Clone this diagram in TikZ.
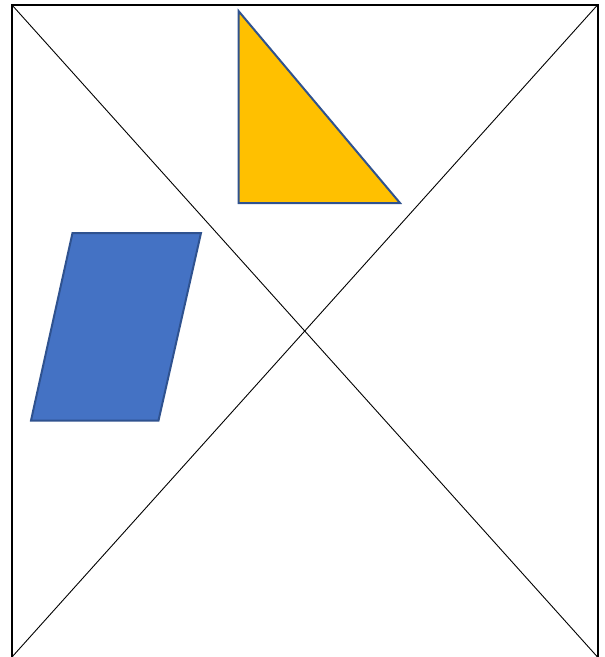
\documentclass[tikz,border=0pt]{standalone}
\definecolor{officeblue}{HTML}{4472C4}
\definecolor{outlineblue}{HTML}{2F528F}
\definecolor{officegold}{HTML}{FFC000}
\tikzset{
  frame/.style={line width=2pt, black},
  diag/.style={line width=0.9pt, black},
  shapeout/.style={line width=2pt, draw=outlineblue, line join=miter}
}
\begin{document}
\begin{tikzpicture}[x=1pt,y=-1pt]
\useasboundingbox (0,0) rectangle (605,657);
\coordinate (tl) at (12,5);
\coordinate (tr) at (597.5,5);
\coordinate (bl) at (12,657);
\coordinate (br) at (597.5,657);
\draw[frame] (bl) -- (tl) -- (tr) -- (br);
\draw[diag] (tl) -- (br);
\draw[diag] (tr) -- (bl);
\coordinate (ta) at (238.5,11);
\coordinate (tb) at (238.5,203);
\coordinate (tc) at (400,203);
\filldraw[shapeout, fill=officegold] (ta) -- (tb) -- (tc) -- cycle;
\coordinate (pa) at (72.5,233);
\coordinate (pb) at (201,233);
\coordinate (pc) at (158.5,420.5);
\coordinate (pd) at (31,420.5);
\filldraw[shapeout, fill=officeblue] (pa) -- (pb) -- (pc) -- (pd) -- cycle;
\end{tikzpicture}
\end{document}
